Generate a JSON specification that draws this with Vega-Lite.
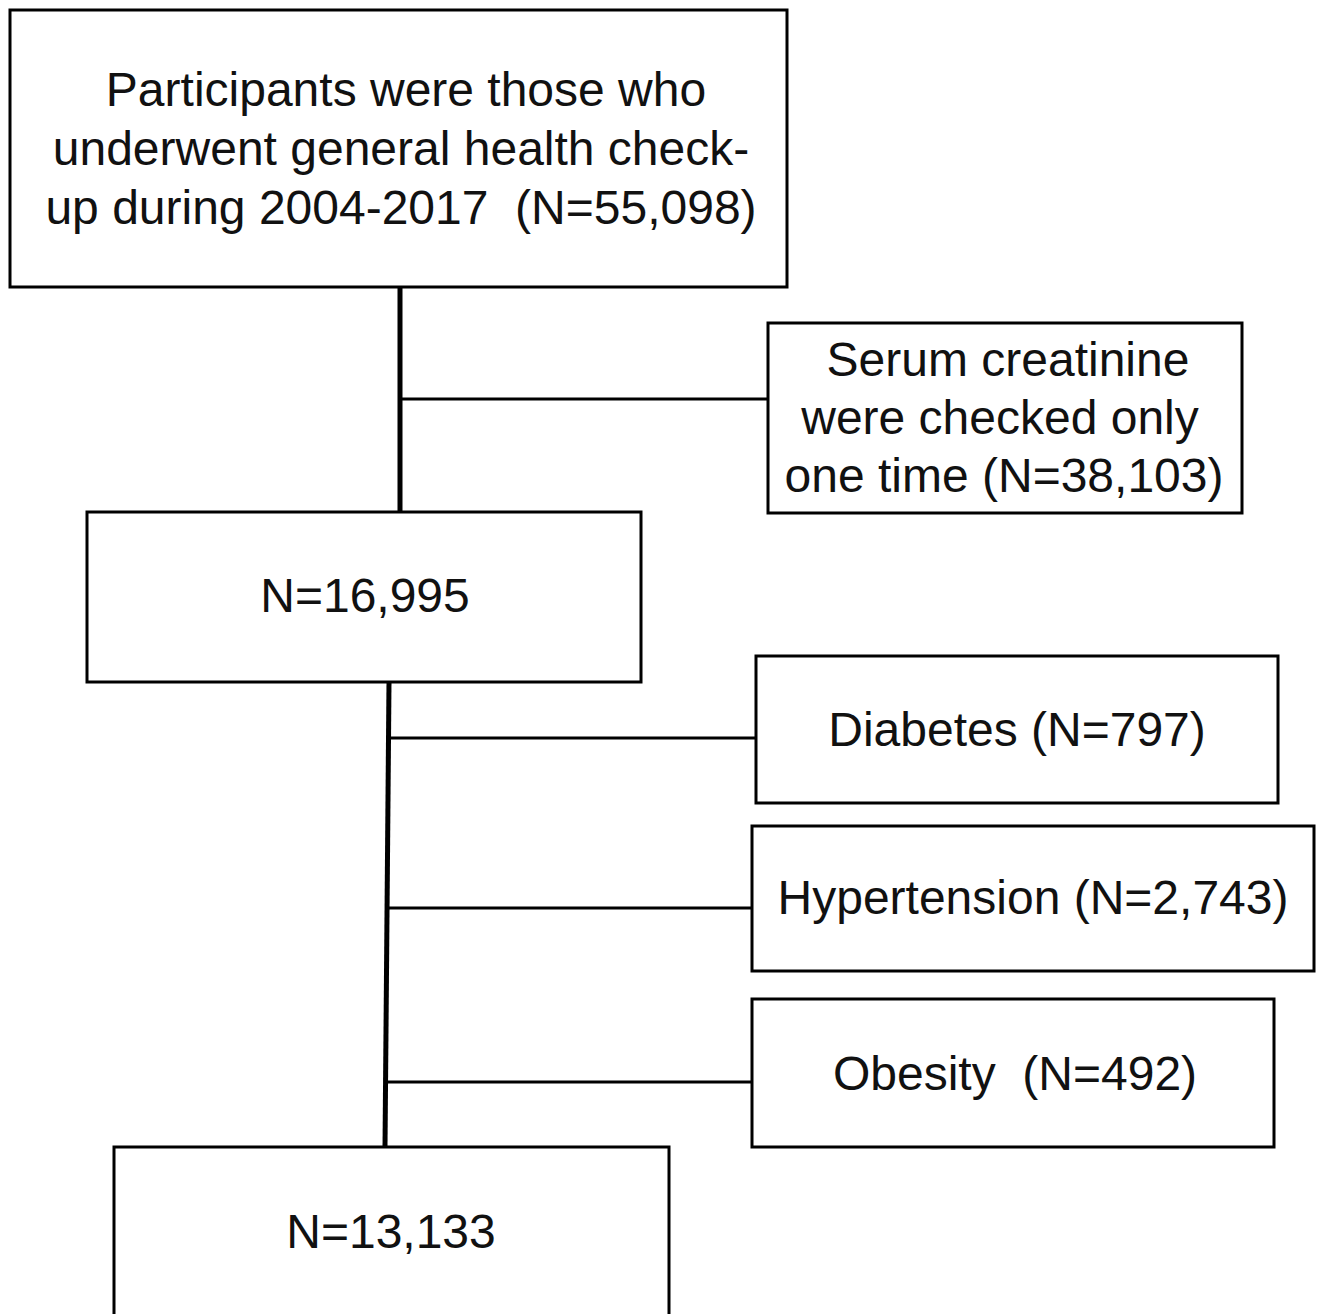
{
  "$schema": "https://vega.github.io/schema/vega-lite/v6.json",
  "autosize": {"type": "fit", "contains": "padding"},
  "width": 1320,
  "height": 1314,
  "padding": 0,
  "background": "white",
  "config": {"view": {"stroke": null}},
  "datasets": {
    "boxes": [
      {"box": "start", "x1": 10, "x2": 787, "y1": 10, "y2": 287},
      {"box": "serum", "x1": 768, "x2": 1242, "y1": 323, "y2": 513},
      {"box": "n16995", "x1": 87, "x2": 641, "y1": 512, "y2": 682},
      {"box": "diabetes", "x1": 756, "x2": 1278, "y1": 656, "y2": 803},
      {"box": "hypertension", "x1": 752, "x2": 1314, "y1": 826, "y2": 971},
      {"box": "obesity", "x1": 752, "x2": 1274, "y1": 999, "y2": 1147},
      {"box": "n13133", "x1": 114, "x2": 669, "y1": 1147, "y2": 1345}
    ],
    "vlines": [
      {"x1": 400, "x2": 400, "y1": 287, "y2": 512},
      {"x1": 389, "x2": 385, "y1": 682, "y2": 1147}
    ],
    "hlines": [
      {"x1": 400, "x2": 768, "y1": 399, "y2": 399},
      {"x1": 389, "x2": 756, "y1": 738, "y2": 738},
      {"x1": 388, "x2": 752, "y1": 908, "y2": 908},
      {"x1": 386, "x2": 752, "y1": 1082, "y2": 1082}
    ],
    "labels": [
      {"label": "Participants were those who", "x": 406, "y": 92},
      {"label": "underwent general health check-", "x": 401, "y": 151},
      {"label": "up during 2004-2017\u00a0 (N=55,098)", "x": 401, "y": 210},
      {"label": "Serum creatinine", "x": 1008, "y": 362},
      {"label": "were checked only", "x": 1000, "y": 420},
      {"label": "one time (N=38,103)", "x": 1004, "y": 478},
      {"label": "N=16,995", "x": 365, "y": 598},
      {"label": "Diabetes (N=797)", "x": 1017, "y": 732},
      {"label": "Hypertension (N=2,743)", "x": 1033, "y": 900},
      {"label": "Obesity\u00a0 (N=492)", "x": 1015, "y": 1076},
      {"label": "N=13,133", "x": 391, "y": 1234}
    ]
  },
  "layer": [
    {
      "data": {"name": "boxes"},
      "mark": {"type": "rect", "fill": "white", "stroke": "black", "strokeWidth": 3, "clip": true},
      "encoding": {
        "x": {"field": "x1", "type": "quantitative", "scale": {"domain": [0, 1320], "nice": false, "zero": false}, "axis": null},
        "x2": {"field": "x2"},
        "y": {"field": "y1", "type": "quantitative", "scale": {"domain": [0, 1314], "nice": false, "zero": false, "reverse": true}, "axis": null},
        "y2": {"field": "y2"}
      }
    },
    {
      "data": {"name": "vlines"},
      "mark": {"type": "rule", "color": "black", "strokeWidth": 5},
      "encoding": {
        "x": {"field": "x1", "type": "quantitative"},
        "x2": {"field": "x2"},
        "y": {"field": "y1", "type": "quantitative"},
        "y2": {"field": "y2"}
      }
    },
    {
      "data": {"name": "hlines"},
      "mark": {"type": "rule", "color": "black", "strokeWidth": 3},
      "encoding": {
        "x": {"field": "x1", "type": "quantitative"},
        "x2": {"field": "x2"},
        "y": {"field": "y1", "type": "quantitative"},
        "y2": {"field": "y2"}
      }
    },
    {
      "data": {"name": "labels"},
      "mark": {"type": "text", "font": "Liberation Sans", "fontSize": 48, "color": "#111111", "align": "center", "baseline": "middle"},
      "encoding": {
        "x": {"field": "x", "type": "quantitative"},
        "y": {"field": "y", "type": "quantitative"},
        "text": {"field": "label"}
      }
    }
  ]
}
